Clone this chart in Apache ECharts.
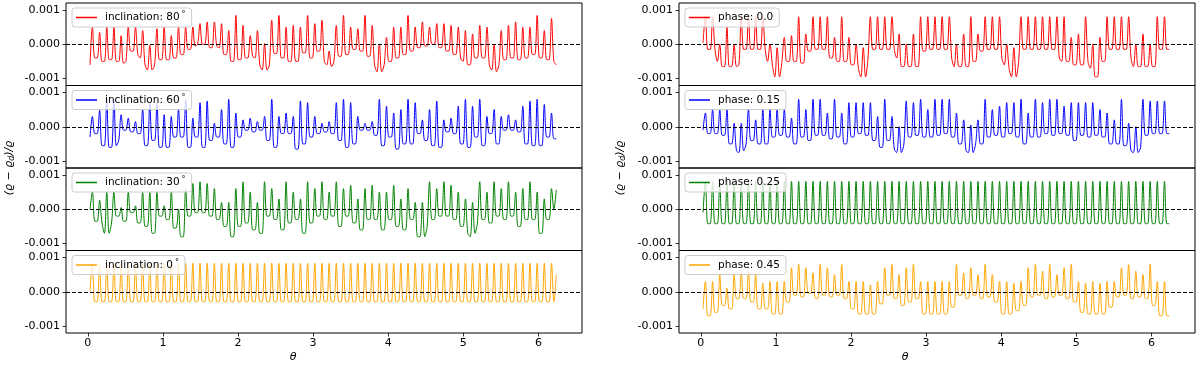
<!DOCTYPE html>
<html><head><meta charset="utf-8">
<script src="https://cdn.jsdelivr.net/npm/echarts@6/dist/echarts.min.js"></script>
<style>html,body{margin:0;padding:0;background:#fff}#c{width:1200px;height:366px}</style>
</head><body><div id="c"></div>
<script>
// theta grid: first sample, then 3 samples per oscillation cycle (peak, trough-left, trough-right)
const thetaStart = 0.03;
const cyclePeriod = 0.0955;
const xTickValues = [0, 1, 2, 3, 4, 5, 6];
const xTickLabels = ['0', '1', '2', '3', '4', '5', '6'];
const yTickValues = [-10, 0, 10];            // in units of 1e-4
const yTickLabels = ['-0.001', '0.000', '0.001'];
const leftNames = ['inclination: 80 °', 'inclination: 60 °', 'inclination: 30 °', 'inclination: 0 °'];
const rightNames = ['phase: 0.0', 'phase: 0.15', 'phase: 0.25', 'phase: 0.45'];
const colors = ['#ff0000', '#0000ff', '#008000', '#ffa500'];

// values in units of 1e-4: [start, P0,a0,b0, P1,a1,b1, ...]
const inc80 = [-6,
 5,-4,-4, 3.5,-5,-5, 5,-4.5,-4.5, 5,-5,-5, 2.5,-5.5,-5, 5,-2,-2, 5,-3,-4, 4,-6,-7.5,
 -0.3,-7.5,-6, 4.5,-4.5,-4.5, 5,-4.5,-4.5, 2.5,-4,-4, 5,-3,-3, 5,-1.5,-1.5, 5,-0.5,0, 6,0,0,
 6.5,-1,-1, 6.5,-0.5,-1, 6,-3,-3, 4,-5,-5, 8.4,-4.5,-4.5, 5.5,-4,-4, 2.5,-3.5,-4, 4,-6,-7.5,
 0.2,-7.5,-6, 7,-2.7,-2.7, 8.4,-4,-4, 5,-5,-5, 5.5,-5,-5, 5,-2.5,-2.5, 8.4,-4,-4, 6,-2,-2,
 7,-5,-6, -2,-6.5,-5, 5.5,-3.5,-3.5, 8.4,-3,-3, 5,-1.5,-1.5, 4.5,-2,-2, 8.4,-3.5,-3.5, 5.5,-6,-8,
 0,-8,-6, 2,-5,-5, 5,-4,-4, 5,-3,-3, 8.4,-2,-2, 5,-1,-1, 6.5,-0.5,-0.5, 5,0,0,
 6,-1,-1, 6,-2,-2, 5.5,-3,-3, 5,-4,-5, 4,-6,-6, 3,-4,-4, 5.5,-4,-4, 5,-6,-7.5,
 0,-8,-6, 4,-4.5,-4.5, 5.5,-4,-4, 6.5,-4.5,-4.5, 5,-4,-4, 5,-3,-3, 8.4,-4,-4, 4,-4.5,-4.5,
 7.5,-5,-6];
const inc60 = [-3,
 3,-2,-2, 4.8,-5.5,-5.5, 8,-6,-6, 8,-5.5,-4, 3.5,-1,-1, 2.5,-1.5,-1.5, 1.5,-2,-2, 5,-5.5,-5.5,
 7,-4,-4, 7,-6,-6, 3.5,-6,-6, 3,-3,-3, 5,-3,-3, 8,-6,-6, 2.5,-3,-3, 7,-6,-6,
 7.5,-4,-4, 1,-3,-3, 5,-5,-5, 8,-6,-6, 4,-3,-3, 2,-1,-1, 2.5,-1.5,-1.5, 1.5,-1,-1,
 3,-4,-4, 8,-6,-6, 3,-2,-2, 4,-2,-2, 3,-6.5,-6.5, 7.5,-5,-5, 7,-3,-3, 3,-2,-2,
 1,-1.5,-1.5, 1.5,-2,-2, 7,-4,-4, 8,-6,-6, 7,-5,-5, 3,-1,-1, 1,-1,-1, 1.5,-2.5,-2.5,
 8,-5.5,-5.5, 6,-3,-3, 4,-6.5,-6.5, 5,-5,-5, 8,-5,-5, 7,-2,-2, 2,-4,-4, 5,-5.5,-5.5,
 7.5,-6,-6, 2,-1.5,-1.5, 2.5,-2,-2, 6,-5,-5, 8,-6,-6, 6,-3,-3, 8,-5.5,-5.5, 3,-2,-2,
 5,-5,-5, 3,-1,-1, 3.5,-1,-1, 2,-1.5,-1.5, 6,-5,-5, 7.5,-5.5,-5.5, 8,-5.5,-5.5, 6.5,-3,-3,
 4,-3.5,-3.5];
const inc30 = [0,
 5,-3.5,-3.5, 2.6,-4,-7, 5,-7,-4, 5,-2,-2, 0.5,-3.5,-3.5, 5,-1,-1, 1,-4,-4, 5,-5,-5,
 5,-7,-7, 5,-2,-2, 1,-3,-3, 5,-5.5,-5.5, 0,-8,-8, 6,-2,-2, 7.5,-1,-1, 8,-1,-1,
 7.5,-2,-2, 6,-3,-3, 2,-5,-5, 2,-8,-8, 6,-5,-5, 8,-4,-4, 5,-6,-6, 2,-7,-7,
 8,-2,-2, 6,-3,-3, 3,-6,-6, 8,-4,-4, 5,-3,-3, 3,-7,-7, 8,-4,-4, 6,-2,-2,
 8,-3,-3, 5,-2,-2, 8,-5,-5, 6,-2,-2, 7,-4,-4, 3,-6,-6, 6,-3,-3, 7,-3,-3,
 5,-6,-6, 5,-3,-3, 7,-5,-5, 3,-6,-6, 6,-3,-3, 2,-8,-8, 2,-8,-5, 8,-3,-3,
 6,-2,-2, 8,-2,-2, 7,-3,-3, 5,-5,-5, 3,-7,-8, 2,-7,-4, 8,-3,-3, 5,-4,-4,
 8,-2,-2, 6,-3,-3, 8,-2,-2, 5,-5,-5, 6,-3,-3, 8,-3,-3, 5,-7,-7, 3,-3,-3,
 6,0,5.7];
const inc0 = [0,
 8.3,-2.9,-2.9, 8.3,-2.9,-2.9, 8.3,-2.9,-2.9, 8.3,-2.9,-2.9, 8.3,-2.9,-2.9, 8.3,-2.9,-2.9, 8.3,-2.9,-2.9, 8.3,-2.9,-2.9,
 8.3,-2.9,-2.9, 8.3,-2.9,-2.9, 8.3,-2.9,-2.9, 8.3,-2.9,-2.9, 8.3,-2.9,-2.9, 8.3,-2.9,-2.9, 8.3,-2.9,-2.9, 8.3,-2.9,-2.9,
 8.3,-2.9,-2.9, 8.3,-2.9,-2.9, 8.3,-2.9,-2.9, 8.3,-2.9,-2.9, 8.3,-2.9,-2.9, 8.3,-2.9,-2.9, 8.3,-2.9,-2.9, 8.3,-2.9,-2.9,
 8.3,-2.9,-2.9, 8.3,-2.9,-2.9, 8.3,-2.9,-2.9, 8.3,-2.9,-2.9, 8.3,-2.9,-2.9, 8.3,-2.9,-2.9, 8.3,-2.9,-2.9, 8.3,-2.9,-2.9,
 8.3,-2.9,-2.9, 8.3,-2.9,-2.9, 8.3,-2.9,-2.9, 8.3,-2.9,-2.9, 8.3,-2.9,-2.9, 8.3,-2.9,-2.9, 8.3,-2.9,-2.9, 8.3,-2.9,-2.9,
 8.3,-2.9,-2.9, 8.3,-2.9,-2.9, 8.3,-2.9,-2.9, 8.3,-2.9,-2.9, 8.3,-2.9,-2.9, 8.3,-2.9,-2.9, 8.3,-2.9,-2.9, 8.3,-2.9,-2.9,
 8.3,-2.9,-2.9, 8.3,-2.9,-2.9, 8.3,-2.9,-2.9, 8.3,-2.9,-2.9, 8.3,-2.9,-2.9, 8.3,-2.9,-2.9, 8.3,-2.9,-2.9, 8.3,-2.9,-2.9,
 8.3,-2.9,-2.9, 8.3,-2.9,-2.9, 8.3,-2.9,-2.9, 8.3,-2.9,-2.9, 8.3,-2.9,-2.9, 8.3,-2.9,-2.9, 8.3,-2.9,-2.9, 8.3,-2.9,-2.9,
 8.3,-2.9,5];
const phase00 = [0.4,
 8,-1.5,-1.5, 8,-1.5,-5, 0,-6.5,-6.5, 5,-6.5,-6.5, 0,-6.5,-6, 8,-1.5,-1.5, 8,-1.5,-1.5, 8,-1.5,-1.5,
 8,-1.5,-5, 0,-6,-9.5, -1,-9.5,-5, 2,-5,-5, 2.5,-5,-5, 8,-5.5,-5.5, 3,-2,-2, 8,-1.5,-1.5,
 8,-1.5,-1.5, 8,-4,-4, 2,-5,-5, 8,-5,-5, 2,-6,-6, 0,-7,-9.5, -1,-9.5,-4, 8,-1.5,-1.5,
 8,-1.5,-1.5, 8,-1.5,-1.5, 8,-1.5,-4, 3,-6.5,-6.5, 0,-6.5,-6.5, 3,-6.5,-6.5, 8,-2,-2, 8,-1.5,-1.5,
 8,-1.5,-1.5, 8,-1.5,-1.5, 8,-4,-6.5, 0,-6.5,-6.5, 3,-6.5,-6.5, 8,-5,-5, 3,-2,-2, 8,-1.5,-1.5,
 8,-1.5,-1.5, 8,-4,-6, 0,-7,-9.5, -1,-9.5,-5, 8,-1.5,-1.5, 8,-1.5,-1.5, 8,-1.5,-1.5, 8,-1.5,-1.5,
 8,-1.5,-1.5, 8,-4,-5, 8,-5,-5, 2,-6,-6, 3,-6,-6, 8,-5,-7, 0,-9.5,-9.5, 2,-5,-5,
 8,-1.5,-1.5, 8,-1.5,-1.5, 8,-1.5,-1.5, 8,-4,-6.5, 0,-6.5,-6.5, 3,-6.5,-6.5, 0,-6.5,-6.5, 8,-1.5,-1.5,
 8,-1.5,-1.5];
const phase15 = [-1,
 4,-2,-2, 5,-2,-2, 5,-2.5,-2.5, 5,-5,-5, 1,-7,-7.5, 1,-7,-5, 5,-4,-4, 2,-5,-5,
 5,-5,-5, 5,-3,-3, 5,-2.5,-2.5, 5,-3,-3, 2.5,-5,-5, 8,-3,-3, 5,-4,-4, 8,-2.5,-2.5,
 8,-2.5,-2.5, 4,-3.5,-3.5, 8,-3,-3, 4,-5,-5, 7,-3,-3, 7,-2,-2, 7,-2.5,-2.5, 7,-4,-4,
 3,-6,-6, 8,-4,-4, 3,-6.5,-7.5, 0,-7.5,-5, 7.5,-3,-3, 7,-2.5,-2.5, 8,-3,-3, 5,-3,-3,
 8,-2.5,-2.5, 8,-2,-2, 8,-3,-3, 4,-5,-5, 2,-7,-7.5, 0.5,-7.5,-5, 2,-5,-5, 8,-3,-3,
 5,-2.5,-2.5, 6,-3,-3, 7,-2,-2, 7,-3,-3, 8,-5,-5, 4,-3,-3, 8,-3,-3, 7,-2,-2,
 8,-2.5,-2.5, 8,-2,-2, 6,-2.5,-2.5, 7,-4,-4, 7,-2.5,-2.5, 7,-3,-3, 7,-2.5,-2.5, 5,-3,-3,
 4,-5,-5, 2,-5,-5, 8,-5.5,-5.5, 1,-7,-7.5, 0,-7.5,-6, 8,-2.5,-2.5, 7.5,-2,-2, 7.5,-2,-2,
 7.5,-2,-2];
const phase25 = [-1,
 8.1,-4.2,-4.2, 8.1,-4.2,-4.2, 8.1,-4.2,-4.2, 8.1,-4.2,-4.2, 8.1,-4.2,-4.2, 8.1,-4.2,-4.2, 8.1,-4.2,-4.2, 8.1,-4.2,-4.2,
 8.1,-4.2,-4.2, 8.1,-4.2,-4.2, 8.1,-4.2,-4.2, 8.1,-4.2,-4.2, 8.1,-4.2,-4.2, 8.1,-4.2,-4.2, 8.1,-4.2,-4.2, 8.1,-4.2,-4.2,
 8.1,-4.2,-4.2, 8.1,-4.2,-4.2, 8.1,-4.2,-4.2, 8.1,-4.2,-4.2, 8.1,-4.2,-4.2, 8.1,-4.2,-4.2, 8.1,-4.2,-4.2, 8.1,-4.2,-4.2,
 8.1,-4.2,-4.2, 8.1,-4.2,-4.2, 8.1,-4.2,-4.2, 8.1,-4.2,-4.2, 8.1,-4.2,-4.2, 8.1,-4.2,-4.2, 8.1,-4.2,-4.2, 8.1,-4.2,-4.2,
 8.1,-4.2,-4.2, 8.1,-4.2,-4.2, 8.1,-4.2,-4.2, 8.1,-4.2,-4.2, 8.1,-4.2,-4.2, 8.1,-4.2,-4.2, 8.1,-4.2,-4.2, 8.1,-4.2,-4.2,
 8.1,-4.2,-4.2, 8.1,-4.2,-4.2, 8.1,-4.2,-4.2, 8.1,-4.2,-4.2, 8.1,-4.2,-4.2, 8.1,-4.2,-4.2, 8.1,-4.2,-4.2, 8.1,-4.2,-4.2,
 8.1,-4.2,-4.2, 8.1,-4.2,-4.2, 8.1,-4.2,-4.2, 8.1,-4.2,-4.2, 8.1,-4.2,-4.2, 8.1,-4.2,-4.2, 8.1,-4.2,-4.2, 8.1,-4.2,-4.2,
 8.1,-4.2,-4.2, 8.1,-4.2,-4.2, 8.1,-4.2,-4.2, 8.1,-4.2,-4.2, 8.1,-4.2,-4.2, 8.1,-4.2,-4.2, 8.1,-4.2,-4.2, 8.1,-4.2,-4.2,
 8.1,-4.2,-4.2];
const phase45 = [-5,
 3,-7,-7, 3,-6,-6, 5,-4,-4, 1,-5,-5, 5,-2,-2, 6,-2,-2, 6,-3,-3, 5,-5,-5,
 2.5,-5,-5, 3,-6.5,-6.5, 3,-6.5,-6.5, 3,-3,-3, 7,-1,-1, 8,-1.5,-1.5, 7,-0.5,-0.5, 5.5,-2,-2,
 8,-1,-1, 7,-1.5,-1.5, 5,-1,-1, 8,-2,-2, 3,-5,-5, 3,-6.5,-6.5, 3,-6.5,-6.5, 2,-6.5,-6.5,
 3,-3.5,-3.5, 7,-1,-1, 8,-2,-2, 5,-4,-4, 7,-3,-3, 8,-2,-2, 3,-6.5,-6.5, 3,-6.5,-6.5,
 3,-6.5,-6.5, 3,-6.5,-6.5, 3,-4.5,-4.5, 8,-1,-1, 5.5,-2,-2, 7,-1,-1, 5,-2,-2, 8,-1.5,-1.5,
 5,-3,-3, 3,-6.5,-6.5, 3,-6.5,-6.5, 2.5,-5.5,-5.5, 3,-4,-4, 7,-1.5,-1.5, 8,-1,-1, 6,-2,-2,
 8,-1.5,-1.5, 5,-1,-1, 7,-2,-2, 8,-3,-3, 3,-6,-6, 2.5,-6.5,-6.5, 3,-6.5,-6.5, 2.5,-6.5,-6.5,
 3,-4.5,-4.5, 3,-1.5,-1.5, 7,-1,-1, 8,-2,-2, 6,-1.5,-1.5, 5,-2,-2, 8,-4,-4, 3,-7,-7,
 3,-7,-7];

const leftData = [inc80, inc60, inc30, inc0];
const rightData = [phase00, phase15, phase25, phase45];

const FONT = 'DejaVu Sans';
const panelTops = [3, 85.5, 168, 250.5];
const panelH = 82.5;
const colLeft = [66, 679];
const panelW = 516;

const grids = [], xAxes = [], yAxes = [], series = [], legends = [];
[leftData, rightData].forEach((col, c) => {
  col.forEach((vals, r) => {
    const gi = grids.length;
    const bottom = r === 3;
    grids.push({left: colLeft[c], top: panelTops[r], width: panelW, height: panelH,
      show: true, borderColor: '#000', borderWidth: 1, backgroundColor: 'transparent', containLabel: false});
    xAxes.push({gridIndex: gi, type: 'value', min: -0.29, max: 6.58, position: 'bottom',
      axisLine: {show: false, onZero: false}, splitLine: {show: false},
      axisTick: {show: bottom, customValues: xTickValues, length: 3.5, lineStyle: {color: '#000', width: 0.8}},
      axisLabel: {show: bottom, customValues: xTickValues, margin: 5,
        formatter: v => xTickLabels[xTickValues.indexOf(v)],
        fontFamily: FONT, fontSize: 11, color: '#000'}});
    yAxes.push({gridIndex: gi, type: 'value', min: -12, max: 12, position: 'left',
      axisLine: {show: false, onZero: false}, splitLine: {show: false},
      axisTick: {show: true, customValues: yTickValues, length: 3.5, lineStyle: {color: '#000', width: 0.8}},
      axisLabel: {show: true, customValues: yTickValues, margin: 6,
        formatter: v => yTickLabels[yTickValues.indexOf(v)],
        fontFamily: FONT, fontSize: 11, color: '#000'}});
    const name = (c === 0 ? leftNames : rightNames)[r];
    const step = cyclePeriod / 3;
    series.push({type: 'line', name: name, xAxisIndex: gi, yAxisIndex: gi,
      data: vals.map((v, i) => [thetaStart + i * step, v]),
      showSymbol: false, symbol: 'none', smooth: 0.35, animation: false,
      lineStyle: {color: colors[r], width: 1}, itemStyle: {color: colors[r]},
      markLine: {silent: true, symbol: 'none', label: {show: false}, animation: false,
        lineStyle: {color: '#000', type: [4, 2], width: 1}, data: [{yAxis: 0}]}});
    legends.push({data: [name], left: colLeft[c] + 6, top: panelTops[r] + 5,
      icon: 'rect', itemWidth: 21, itemHeight: 1.5, itemGap: 0,
      padding: [3, 6, 3, 4], backgroundColor: 'rgba(255,255,255,0.8)',
      borderColor: '#cccccc', borderWidth: 1, borderRadius: 3, selectedMode: false,
      formatter: n => n.endsWith(' °') ? n.slice(0, -2) + '{d|°}' : n,
      textStyle: {fontFamily: FONT, fontSize: 10.5, color: '#000', lineHeight: 13, padding: [0, 0, 0, 3],
        rich: {d: {fontFamily: FONT, fontSize: 8, color: '#000', padding: [0, 0, 5, 2]}}}});
  });
});

const ylab = (x) => ({type: 'text', x: x, y: 168, rotation: Math.PI / 2,
  style: {text: '{a|(ϱ − ϱ}{b|d}{a|)/ϱ}', align: 'center', verticalAlign: 'middle',
    rich: {a: {fontFamily: FONT, fontSize: 11, fontStyle: 'italic', fill: '#000', lineHeight: 14},
           b: {fontFamily: FONT, fontSize: 8, fontStyle: 'italic', fill: '#000', lineHeight: 14, verticalAlign: 'bottom', padding: [4, 0, 0, 0]}}}});
const xlab = (x) => ({type: 'text', x: x, y: 357,
  style: {text: 'θ', align: 'center', verticalAlign: 'middle', fontFamily: FONT, fontSize: 11, fontStyle: 'italic', fill: '#000'}});

const chart = echarts.init(document.getElementById('c'), null, {renderer: 'canvas', width: 1200, height: 366});
chart.setOption({
  animation: false,
  grid: grids, xAxis: xAxes, yAxis: yAxes, series: series, legend: legends,
  graphic: [ylab(9), ylab(620), xlab(293), xlab(905)]
});
</script>
</body></html>
